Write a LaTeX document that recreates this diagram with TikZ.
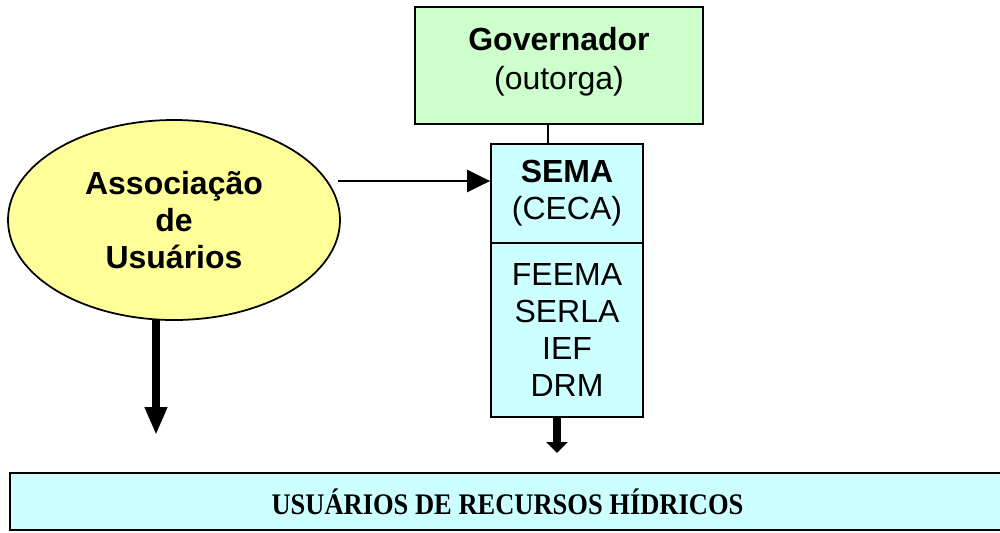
\documentclass[tikz,border=0pt]{standalone}
\usepackage{fontspec}
\setmainfont{Liberation Sans}
\newfontfamily\timesfont{Liberation Serif}
\usetikzlibrary{arrows.meta,shapes.geometric}
\definecolor{govgreen}{HTML}{CCFFCC}
\definecolor{semacyan}{HTML}{CCFFFF}
\definecolor{assocyellow}{HTML}{FFFF99}
\begin{document}
\begin{tikzpicture}
\tikzstyle{box}=[draw, line width=1pt, inner sep=0pt, align=center, font=\fontsize{18.2}{21}\selectfont]
\tikzstyle{fat}=[line width=4.6pt, -{Triangle[length=0.56cm, width=0.42cm]}]
\useasboundingbox (0,0) rectangle (20,-10.64);

\node[box, fill=govgreen, minimum width=5.76cm, minimum height=2.34cm] (gov) at (11.18,-1.31) {};
\node[font=\fontsize{18.2}{22}\selectfont, align=center] (govtxt) at (11.18,-1.24) {\textbf{Governador}\\(outorga)};
\node[box, fill=semacyan, minimum width=3.04cm, minimum height=1.98cm] (sema) at (11.34,-3.87) {\textbf{SEMA}\\(CECA)};
\node[box, fill=semacyan, minimum width=3.04cm, minimum height=3.48cm] (orgs) at (11.34,-6.6) {FEEMA\\SERLA\\IEF\\DRM};
\node[box, ellipse, fill=assocyellow, minimum width=6.64cm, minimum height=4.0cm, font=\bfseries\fontsize{18.2}{21}\selectfont] (assoc) at (3.48,-4.4) {Associa\c{c}\~ao\\de\\Usu\'arios};
\node[box, fill=semacyan, minimum width=19.9cm, minimum height=1.14cm, font=\timesfont\bfseries\fontsize{17}{18}\selectfont] (users) at (10.15,-10.03) {\scalebox{0.887}[1]{USU\'ARIOS DE RECURSOS H\'IDRICOS}};

\coordinate (a1) at (6.76,-3.62);
\coordinate (a2) at (3.12,-6.4);
\coordinate (a3) at (3.12,-8.7);
\coordinate (s1) at (11.14,-8.34);
\coordinate (s2) at (11.14,-9.06);
\coordinate (g1) at (10.96,-2.48);

\draw[line width=1.1pt] (g1) -- (g1 |- sema.north);
\draw[line width=1.5pt, -{Triangle[length=0.46cm, width=0.44cm]}] (a1) -- (a1 -| sema.west);
\draw[fat] (a2) -- (a3);
\draw[line width=5pt, -{Triangle[length=0.22cm, width=0.42cm]}] (s1) -- (s2);
\end{tikzpicture}
\end{document}
